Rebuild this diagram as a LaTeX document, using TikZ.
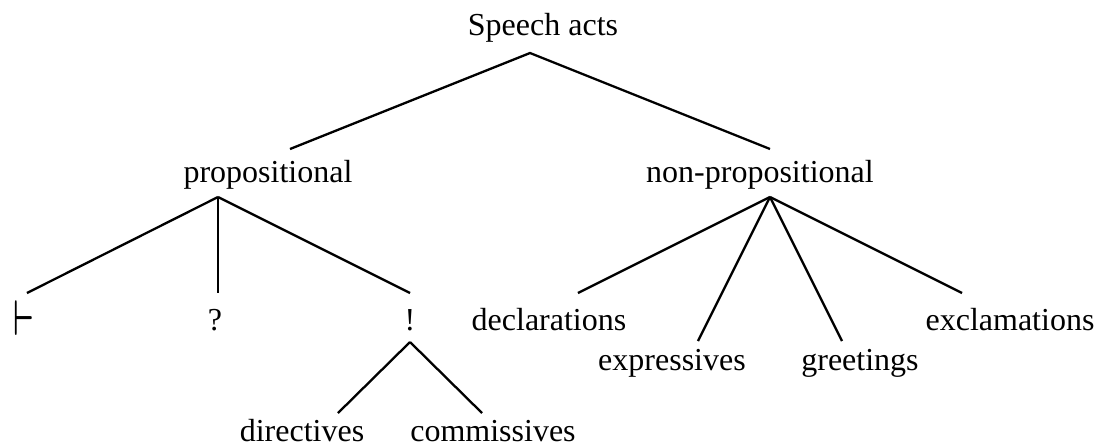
\documentclass[tikz,border=0pt]{standalone}
\usepackage{graphicx}
\usepackage{bm}
\usepackage{fontspec}
\setmainfont{Liberation Serif}
\usetikzlibrary{positioning}

\begin{document}
\begin{tikzpicture}[x=0.5pt, y=-0.5pt, font=\fontsize{16}{19}\selectfont,
  line width=1.15pt, lbl/.style={anchor=base, inner sep=0pt}]

\useasboundingbox (0,0) rectangle (1104,447);

% labels
\node[lbl] (speech) at (543,35) {Speech acts};
\node[lbl] (prop) at (268,182) {propositional};
\node[lbl] (nonprop) at (760,182) {non-propositional};

\node[lbl] (assert) at (24,335) {\scalebox{0.85}[1.45]{$\bm{\vdash}$}};
\node[lbl] (quest) at (215,330) {?};
\node[lbl] (excl) at (410,330) {!};

\node[lbl] (decl) at (549,330) {declarations};
\node[lbl] (expr) at (672,370) {expressives};
\node[lbl] (greet) at (860,370) {greetings};
\node[lbl] (exclam) at (1010,330) {exclamations};

\node[lbl] (dir) at (302,441) {directives};
\node[lbl] (comm) at (493,441) {commissives};

% line ends
\coordinate (speech-b) at (530,53);
\coordinate (prop-t) at (290,149);
\coordinate (nonprop-t) at (770,149);
\coordinate (prop-b) at (218,197);
\coordinate (nonprop-b) at (770,197);
\coordinate (assert-t) at (27,293);
\coordinate (quest-t) at (218,293);
\coordinate (excl-t) at (410,293);
\coordinate (excl-b) at (410,342);
\coordinate (dir-t) at (338,413);
\coordinate (comm-t) at (482,413);
\coordinate (decl-t) at (578,293);
\coordinate (expr-t) at (698,341);
\coordinate (greet-t) at (842,341);
\coordinate (exclam-t) at (962,293);

\draw (prop-t) -- (speech-b) -- (nonprop-t);

\draw (prop-b) -- (assert-t);
\draw (prop-b) -- (quest-t);
\draw (prop-b) -- (excl-t);

\draw (excl-b) -- (dir-t);
\draw (excl-b) -- (comm-t);

\draw (nonprop-b) -- (decl-t);
\draw (nonprop-b) -- (expr-t);
\draw (nonprop-b) -- (greet-t);
\draw (nonprop-b) -- (exclam-t);
\end{tikzpicture}
\end{document}
